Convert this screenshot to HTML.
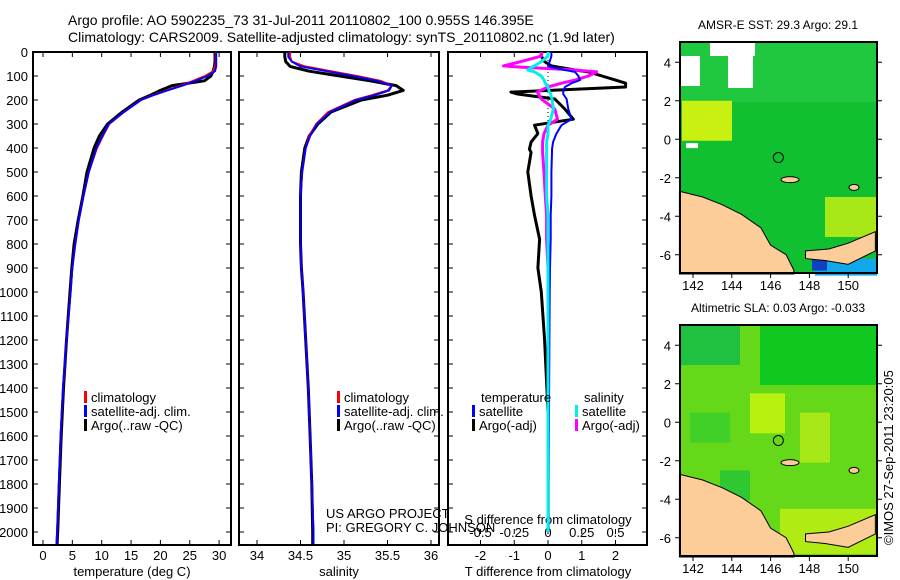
<!DOCTYPE html>
<html><head><meta charset="utf-8"><style>
html,body{margin:0;padding:0;background:#fff;}
svg{display:block;font-family:"Liberation Sans",sans-serif;}
</style></head><body>
<svg id="c" width="900" height="580" viewBox="0 0 900 580">
<text x="68" y="25" font-size="14">Argo profile: AO 5902235_73 31-Jul-2011 20110802_100 0.955S 146.395E</text>
<text x="68" y="42" font-size="14">Climatology: CARS2009. Satellite-adjusted climatology: synTS_20110802.nc (1.9d later)</text>
<g id="maps"></g>
<g id="plots"></g>
<text transform="translate(893,545) rotate(-90)" font-size="13">©IMOS 27-Sep-2011 23:20:05</text>
</svg>
<script>
// ---- data ----
const depths = [0,20,40,60,80,100,120,140,160,180,200,250,300,350,400,500,600,700,800,900,1000,1200,1400,1600,1800,2000,2050];
const tempClim = [29.4,29.4,29.4,29.3,29.0,27.6,25.6,23.5,21.0,18.7,16.6,13.8,11.3,10.2,9.2,7.8,6.9,6.1,5.5,5.0,4.7,4.0,3.4,3.0,2.7,2.4,2.3];
const tempSat  = [29.5,29.5,29.5,29.5,29.3,28.0,26.0,23.8,21.2,18.8,16.7,13.8,11.2,10.1,9.1,7.8,6.9,6.1,5.5,5.0,4.7,4.0,3.4,3.0,2.7,2.4,2.3];
const tempArgo = [29.3,29.3,29.3,29.2,29.0,28.6,27.5,22.0,20.0,18.3,16.4,13.5,11.0,9.6,8.7,7.5,6.8,6.0,5.3,4.9,4.6,4.0,3.5,3.1,2.8,2.5,2.4];
const salClim = [34.38,34.38,34.4,34.55,34.85,35.15,35.42,35.55,35.5,35.32,35.12,34.82,34.68,34.6,34.56,34.52,34.5,34.5,34.5,34.51,34.53,34.56,34.59,34.61,34.63,34.65,34.65];
const salSat  = [34.36,34.36,34.4,34.5,34.8,35.1,35.38,35.55,35.52,35.35,35.14,34.84,34.69,34.61,34.56,34.52,34.5,34.5,34.5,34.51,34.53,34.56,34.59,34.61,34.63,34.65,34.65];
const salArgo = [34.32,34.32,34.33,34.38,34.6,34.95,35.3,35.6,35.68,35.5,35.2,34.85,34.7,34.6,34.55,34.51,34.5,34.5,34.5,34.51,34.53,34.56,34.59,34.61,34.63,34.64,34.64];
const diffDepths = [0,17,40,58,63,75,83,100,117,130,146,167,175,196,238,280,305,340,375,405,418,500,600,680,780,900,1000,1200,1500,1800,2000];
const dTsat  = [0.1,0.1,0.05,0.0,0.1,0.5,0.8,0.9,0.95,0.7,0.5,0.45,0.45,0.55,0.6,0.7,0.4,0.25,0.15,0.12,0.12,0.1,0.1,0.08,0.08,0.06,0.05,0.04,0.03,0.02,0.02];
const dTargo = [-0.2,-0.2,-0.1,0.1,0.3,0.8,1.2,1.6,2.0,2.3,2.3,-1.1,-0.9,0.2,0.5,0.75,-0.4,-0.3,-0.5,-0.55,-0.5,-0.6,-0.5,-0.4,-0.25,-0.3,-0.2,-0.1,0.0,0.0,0.0];
const dSsat  = [0.0,0.0,-0.05,-0.1,-0.12,-0.15,-0.1,-0.05,-0.03,-0.02,0.0,0.01,0.02,0.03,0.04,0.02,0.0,0.0,-0.01,-0.01,-0.01,-0.01,-0.01,0.0,0.0,0.0,0.0,0.0,0.0,0.0,0.0];
const dSargo = [-0.05,-0.05,-0.2,-0.33,-0.2,0.2,0.36,0.3,0.2,0.1,0.0,-0.08,-0.07,-0.05,0.05,0.07,0.0,-0.03,-0.04,-0.04,-0.04,-0.03,-0.02,-0.01,-0.01,0.0,0.0,0.0,0.0,0.0,0.0];
const depthTicks = [0,100,200,300,400,500,600,700,800,900,1000,1100,1200,1300,1400,1500,1600,1700,1800,1900,2000];
const tempTicks = [0,5,10,15,20,25,30];
const salTicks = [34,34.5,35,35.5,36];
const tdTicks = [-2,-1,0,1,2];
const sdTicks = [-0.5,-0.25,0,0.25,0.5];
const latTicks = [4,2,0,-2,-4,-6];
const lonTicks = [142,144,146,148,150];

const NS="http://www.w3.org/2000/svg";
const plots=document.getElementById('plots');
function mk(tag,attrs,parent){const e=document.createElementNS(NS,tag);for(const k in attrs)e.setAttribute(k,attrs[k]);(parent||plots).appendChild(e);return e;}
const yD = d => 52 + d*0.24;
const xT = t => 43 + t*5.87;
const xS = s => 257 + (s-34)*87;
const xTd = v => 548 + v*33.75;
const xSd = v => 548 + v*135;

function frame(x0,x1,name){
  const r=mk('rect',{x:x0,y:52,width:x1-x0,height:493,fill:'none',stroke:'#000','stroke-width':2});
  
  
}
function line(xs,xf,ys,color,w,name){
  const pts=xs.map((v,i)=>xf(v).toFixed(1)+','+yD(ys[i]).toFixed(1)).join(' ');
  const p=mk('polyline',{points:pts,fill:'none',stroke:color,'stroke-width':w,'stroke-linejoin':'round'});
  
  
}
function text(x,y,s,anchor,size,name){
  const t=mk('text',{x:x,y:y,'font-size':size||13,'text-anchor':anchor||'start'});t.textContent=s;
  
  
  return t;
}
depthTicks.forEach(d=>{
  text(28,yD(d)+5,String(d),'end',13,'depth-tick-label');
  [[33,38],[226,231],[239,244],[434,439],[448,453],[642,647]].forEach(([a,b])=>mk('line',{x1:a,x2:b,y1:yD(d),y2:yD(d),stroke:'#000','stroke-width':1}));
});
frame(33,231,'temperature-panel');frame(239,439,'salinity-panel');frame(448,647,'difference-panel');
tempTicks.forEach(t=>{mk('line',{x1:xT(t),x2:xT(t),y1:540,y2:545,stroke:'#000'});mk('line',{x1:xT(t),x2:xT(t),y1:52,y2:57,stroke:'#000'});text(xT(t),560,String(t),'middle',13,'temperature-tick-label');});
salTicks.forEach(s=>{mk('line',{x1:xS(s),x2:xS(s),y1:540,y2:545,stroke:'#000'});mk('line',{x1:xS(s),x2:xS(s),y1:52,y2:57,stroke:'#000'});text(xS(s),560,String(s),'middle',13,'salinity-tick-label');});
tdTicks.forEach(v=>{mk('line',{x1:xTd(v),x2:xTd(v),y1:540,y2:545,stroke:'#000'});mk('line',{x1:xTd(v),x2:xTd(v),y1:52,y2:57,stroke:'#000'});text(xTd(v),560,String(v),'middle',13,'t-diff-tick-label');});
sdTicks.forEach(v=>{mk('line',{x1:xSd(v),x2:xSd(v),y1:529,y2:534,stroke:'#000'});text(xSd(v),537,String(v),'middle',13,'s-diff-tick-label');});
text(132,576,'temperature (deg C)','middle',13,'temperature-axis-title');
text(339,576,'salinity','middle',13,'salinity-axis-title');
text(548,576,'T difference from climatology','middle',13,'t-diff-axis-title');
text(548,524,'S difference from climatology','middle',13,'s-diff-axis-title');
line(tempArgo,xT,depths,'#000',3,'temp-argo-line');
line(tempClim,xT,depths,'#f00',2,'temp-climatology-line');
line(tempSat,xT,depths,'#00f',2,'temp-satellite-line');
line(salArgo,xS,depths,'#000',3,'salinity-argo-line');
line(salClim,xS,depths,'#f00',2,'salinity-climatology-line');
line(salSat,xS,depths,'#00f',2,'salinity-satellite-line');
mk('line',{x1:548,x2:548,y1:52,y2:135,stroke:'#000','stroke-dasharray':'1,3'});
line(dTargo,xTd,diffDepths,'#000',3,'t-diff-argo-line');
line(dSargo,xSd,diffDepths,'#f0f',3,'s-diff-argo-line');
line(dTsat,xTd,diffDepths,'#00f',2,'t-diff-satellite-line');
line(dSsat,xSd,diffDepths,'#0ee',3,'s-diff-satellite-line');
function leg(x,y,color,label,name){mk('rect',{x:x,y:y-7,width:3,height:12,fill:color});text(x+7,y+4,label,'start',13,name);}
[[84,'temp'],[337,'sal']].forEach(([x,n])=>{
  leg(x,398,'#f00','climatology',n+'-legend-climatology');
  leg(x,412,'#00f','satellite-adj. clim.',n+'-legend-satellite');
  leg(x,426,'#000','Argo(..raw -QC)',n+'-legend-argo');
});
text(481,402,'temperature','start',13,'diff-legend-temperature-header');
text(584,402,'salinity','start',13,'diff-legend-salinity-header');
leg(472,412,'#00f','satellite','diff-legend-t-satellite');
leg(472,426,'#000','Argo(-adj)','diff-legend-t-argo');
leg(575,412,'#0ee','satellite','diff-legend-s-satellite');
leg(575,426,'#f0f','Argo(-adj)','diff-legend-s-argo');
text(326,518,'US ARGO PROJECT','start',13,'project-label');
text(326,532,'PI: GREGORY C. JOHNSON','start',13,'pi-label');

const maps=document.getElementById('maps');
function mm(tag,attrs,parent){const e=document.createElementNS(NS,tag);for(const k in attrs)e.setAttribute(k,attrs[k]);(parent||maps).appendChild(e);return e;}
function drawMap(top,title,name,sst){
  const g=mm('g',{});
  
  
  const L=680,R=877,B=top+231;
  const xL=lon=>693+(lon-142)*19.4, yL=lat=>top+1+(5-lat)*19.25;
  mm('rect',{x:L,y:top,width:R-L,height:B-top,fill:sst?'#10c030':'#66d81a'},g);
  if(sst){
    mm('rect',{x:L,y:top,width:R-L,height:60,fill:'#20c840'},g);
    mm('rect',{x:L+2,y:yL(2),width:50,height:40,fill:'#c8f010'},g);
    mm('rect',{x:L+30,y:top,width:45,height:14,fill:'#fff'},g);
    mm('rect',{x:L,y:top+14,width:20,height:30,fill:'#fff'},g);
    mm('rect',{x:L+48,y:top+14,width:25,height:32,fill:'#fff'},g);
    mm('rect',{x:L+6,y:yL(-0.2),width:12,height:5,fill:'#fff'},g);
    mm('rect',{x:L+145,y:yL(-3),width:52,height:40,fill:'#a8e818'},g);
    mm('rect',{x:L+135,y:yL(-6.2),width:62,height:17,fill:'#10a8e8'},g);
    mm('rect',{x:L+132,y:yL(-6.2),width:15,height:12,fill:'#1040c0'},g);
  } else {
    mm('rect',{x:L,y:top,width:60,height:40,fill:'#20c040'},g);
    mm('rect',{x:L+80,y:top,width:117,height:60,fill:'#10c820'},g);
    mm('rect',{x:L+70,y:yL(1.5),width:35,height:40,fill:'#b8f010'},g);
    mm('rect',{x:L+120,y:yL(0.5),width:30,height:50,fill:'#a8e818'},g);
    mm('rect',{x:L+10,y:yL(0.5),width:40,height:30,fill:'#40d028'},g);
    mm('rect',{x:L+40,y:yL(-2.5),width:30,height:30,fill:'#30c830'},g);
    mm('rect',{x:L+100,y:yL(-4.5),width:97,height:45,fill:'#b0ec14'},g);
  }
  const land=[[141.3,-2.7],[142.5,-3.0],[143.5,-3.4],[144.5,-3.9],[145.5,-4.6],[146,-5.5],[146.8,-6.0],[147.2,-6.8],[147.2,-7],[141.3,-7]];
  mm('polygon',{points:land.map(p=>xL(p[0])+','+yL(p[1])).join(' '),fill:'#fccc99',stroke:'#000','stroke-width':1},g);
  const land2=[[147.8,-5.8],[149,-5.7],[150,-5.4],[151.4,-4.8],[151.4,-5.8],[150,-6.5],[148.8,-6.3],[147.8,-6.2]];
  mm('polygon',{points:land2.map(p=>xL(p[0])+','+yL(p[1])).join(' '),fill:'#fccc99',stroke:'#000','stroke-width':1},g);
  mm('ellipse',{cx:xL(147),cy:yL(-2.1),rx:9,ry:3,fill:'#fccc99',stroke:'#000'},g);
  mm('ellipse',{cx:xL(150.3),cy:yL(-2.5),rx:5,ry:3,fill:'#fccc99',stroke:'#000'},g);
  mm('circle',{cx:xL(146.4),cy:yL(-0.95),r:5,fill:'none',stroke:'#000'},g);
  mm('rect',{x:L,y:top,width:R-L,height:B-top,fill:'none',stroke:'#000','stroke-width':2},g);
  latTicks.forEach(v=>{mm('line',{x1:L-5,x2:L,y1:yL(v),y2:yL(v),stroke:'#000'},g);mm('line',{x1:R,x2:R+5,y1:yL(v),y2:yL(v),stroke:'#000'},g);
    const t=mm('text',{x:L-9,y:yL(v)+5,'font-size':13,'text-anchor':'end'},g);t.textContent=String(v);});
  lonTicks.forEach(v=>{mm('line',{x1:xL(v),x2:xL(v),y1:B,y2:B+5,stroke:'#000'},g);
    const t=mm('text',{x:xL(v),y:B+17,'font-size':13,'text-anchor':'middle'},g);t.textContent=String(v);});
  const t=mm('text',{x:778,y:top-13,'font-size':12,'text-anchor':'middle'},g);t.textContent=title;
}
drawMap(42,'AMSR-E SST: 29.3 Argo: 29.1','sst-map',true);
drawMap(325,'Altimetric SLA: 0.03 Argo: -0.033','sla-map',false);
</script>
</body></html>
